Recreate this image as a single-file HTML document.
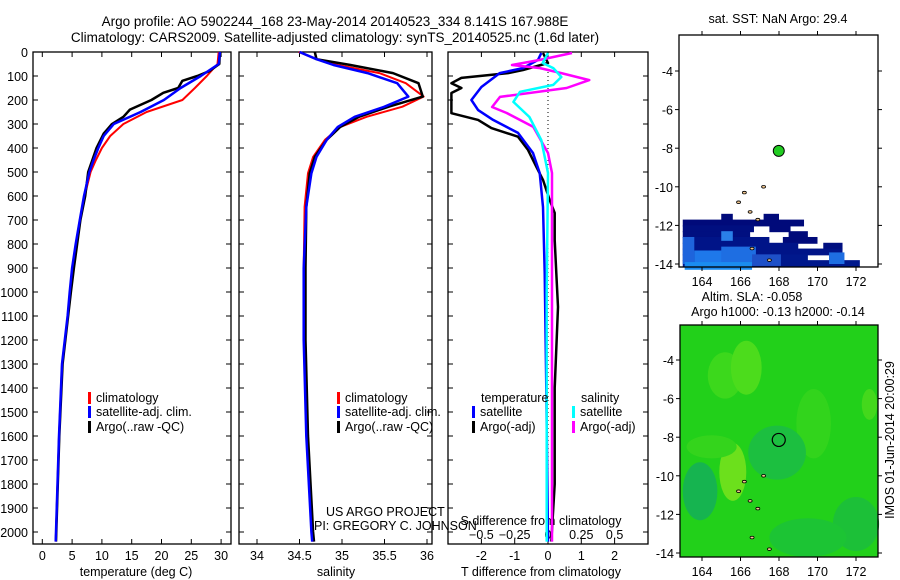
<!DOCTYPE html>
<html><head><meta charset="utf-8"><style>
body{margin:0;background:#fff;width:900px;height:580px;overflow:hidden}
svg{display:block;font-family:"Liberation Sans",sans-serif;font-size:12.5px}
</style></head><body>
<svg id="c" width="900" height="580">
<text x="335" y="26" text-anchor="middle" font-size="13.5">Argo profile: AO 5902244_168 23-May-2014 20140523_334 8.141S 167.988E</text>
<text x="335" y="42" text-anchor="middle" font-size="13.5">Climatology: CARS2009. Satellite-adjusted climatology: synTS_20140525.nc (1.6d later)</text>
</svg>
<script>
// ---- data ----
const tDepth=[0,50,100,150,200,250,300,350,400,450,500,600,700,800,900,1000,1100,1300,1600,2000,2040];
const tClim=[29.6,29.4,27.6,25.6,23.5,17.5,13.6,11.4,10,9,8.1,7.1,6.3,5.7,5.1,4.65,4.3,3.3,2.8,2.3,2.25];
const tSat=[29.8,29.6,26.6,23.2,20.4,16.5,12,10.3,9.4,8.6,7.9,7.0,6.3,5.6,5.0,4.6,4.25,3.3,2.8,2.3,2.25];
const tArgoDepth=[0,50,80,100,120,150,170,200,240,270,300,340,400,500,600,700,900,1000,1300,1600,2000,2040];
const tArgo=[29.8,29.7,28,26,23.5,22.8,20.3,18.3,14.7,13.6,11.7,10.3,9.1,7.7,7.2,6.4,5.3,4.8,3.4,2.85,2.35,2.3];
const sDepth=[0,30,54,88,130,186,228,270,312,366,437,505,645,900,1200,1600,2000,2040];
const sClim=[34.49,34.7,34.95,35.44,35.75,35.96,35.71,35.29,34.98,34.8,34.66,34.6,34.56,34.55,34.56,34.6,34.65,34.66];
const sSat=[34.5,34.7,34.9,35.3,35.65,35.78,35.5,35.15,34.95,34.82,34.7,34.64,34.58,34.55,34.55,34.58,34.64,34.65];
const sArgo=[34.68,34.7,35.1,35.6,35.9,35.95,35.55,35.2,34.98,34.82,34.68,34.62,34.58,34.57,34.57,34.6,34.66,34.67];
const dtArgoDepth=[4,46,75,88,108,130,150,171,255,283,317,353,408,478,533,617,671,783,921,1062,1400,1800,2040];
const dtArgo=[-0.15,0,-0.75,-1.2,-2.6,-2.9,-2.6,-2.9,-2.9,-2.1,-1.7,-0.9,-0.6,-0.35,-0.15,0.05,0.2,0.2,0.25,0.3,0.2,0.2,0.1];
const dtSatDepth=[4,33,67,88,146,200,242,283,337,421,504,646,921,1400,2040];
const dtSat=[-0.2,-0.3,-0.75,-1.45,-2.0,-2.3,-2.1,-1.65,-0.9,-0.45,-0.25,-0.15,-0.1,-0.05,0];
const dsSatDepth=[4,46,67,104,137,166,208,271,367,504,1000,2040];
const dsSat=[0,-0.04,0.04,0.1,0.04,-0.21,-0.26,-0.14,-0.05,0,-0.01,-0.01];
const dsArgoDepth=[4,33,54,67,88,117,150,187,229,254,312,421,504,1000,2040];
const dsArgo=[0.18,-0.06,-0.27,-0.06,0.1,0.31,0.14,-0.36,-0.42,-0.31,-0.11,0,0.03,0.03,0.03];
const depthTicks=[0,100,200,300,400,500,600,700,800,900,1000,1100,1200,1300,1400,1500,1600,1700,1800,1900,2000];
const tTicks=[0,5,10,15,20,25,30];
const sTicks=[34,34.5,35,35.5,36];
const sTickLabels=["34","34.5","35","35.5","36"];
const dtTicks=[-2,-1,0,1,2];
const dsTicks=[-0.5,-0.25,0,0.25,0.5];
const lonTicks=[164,166,168,170,172];
const latTicks=[-4,-6,-8,-10,-12,-14];
const floatLon=167.988, floatLat=-8.141;

const NS='http://www.w3.org/2000/svg';
const svg=document.getElementById('c');
function mk(tag,attrs,parent){const e=document.createElementNS(NS,tag);for(const k in attrs)e.setAttribute(k,attrs[k]);(parent||svg).appendChild(e);return e;}
function txt(x,y,s,anchor,size){const t=mk('text',{x:x,y:y,'text-anchor':anchor||'start'});if(size)t.setAttribute('font-size',size);t.textContent=s;return t;}

const TOP=52,BOT=544;
const yD=d=>TOP+d*0.24;
const P1={l:33,r:231}, P2={l:239,r:432}, P3={l:448,r:648};
const xT=v=>42.3+v*5.96;
const xS=v=>257+(v-34)*85;
const xDT=v=>548+v*33.3;
const xDS=v=>548+v*133.2;

function panel(P,name){
  const r=mk('rect',{x:P.l,y:TOP,width:P.r-P.l,height:BOT-TOP,fill:'none',stroke:'#000','stroke-width':1.3});
  
  
}
panel(P1,'temperature-panel');panel(P2,'salinity-panel');panel(P3,'difference-panel');

depthTicks.forEach(d=>{
  const y=yD(d);
  for(const P of [P1,P2,P3]){mk('line',{x1:P.l,x2:P.l+5,y1:y,y2:y,stroke:'#000'});mk('line',{x1:P.r-5,x2:P.r,y1:y,y2:y,stroke:'#000'});}
  const t=txt(28,y+5,String(d),'end');
  
  
});
tTicks.forEach(v=>{const x=xT(v);mk('line',{x1:x,x2:x,y1:TOP,y2:TOP+5,stroke:'#000'});mk('line',{x1:x,x2:x,y1:BOT-5,y2:BOT,stroke:'#000'});
  const t=txt(x,560,String(v),'middle');});
sTicks.forEach((v,i)=>{const x=xS(v);mk('line',{x1:x,x2:x,y1:TOP,y2:TOP+5,stroke:'#000'});mk('line',{x1:x,x2:x,y1:BOT-5,y2:BOT,stroke:'#000'});
  const t=txt(x,560,sTickLabels[i],'middle');});
dtTicks.forEach(v=>{const x=xDT(v);mk('line',{x1:x,x2:x,y1:BOT-5,y2:BOT,stroke:'#000'});
  const t=txt(x,560,String(v),'middle');});
dsTicks.forEach(v=>{const x=xDS(v);mk('line',{x1:x,x2:x,y1:TOP,y2:TOP+5,stroke:'#000'});
  const t=txt(x,539,String(v).replace('-','−'),'middle');});
let a=txt(136,576,'temperature (deg C)','middle');
a=txt(336,576,'salinity','middle');
a=txt(541,576,'T difference from climatology','middle');
a=txt(541,525,'S difference from climatology','middle');

mk('line',{x1:xDT(0),x2:xDT(0),y1:TOP+20,y2:BOT,stroke:'#000','stroke-dasharray':'1,3'});

function line(xs,ds,xf,color,w,name){
  const pts=xs.map((v,i)=>xf(v).toFixed(1)+','+yD(ds[i]).toFixed(1)).join(' ');
  const p=mk('polyline',{points:pts,fill:'none',stroke:color,'stroke-width':w,'stroke-linejoin':'round'});
  
  
}
line(tClim,tDepth,xT,'#f00',2,'temp-climatology-line');
line(tArgo,tArgoDepth,xT,'#000',2.5,'temp-argo-line');
line(tSat,tDepth,xT,'#00f',2.5,'temp-satellite-line');
line(sClim,sDepth,xS,'#f00',2,'sal-climatology-line');
line(sArgo,sDepth,xS,'#000',2.5,'sal-argo-line');
line(sSat,sDepth,xS,'#00f',2.5,'sal-satellite-line');
line(dtArgo,dtArgoDepth,xDT,'#000',2.5,'t-diff-argo-line');
line(dtSat,dtSatDepth,xDT,'#00f',2.5,'t-diff-satellite-line');
line(dsArgo,dsArgoDepth,xDS,'#f0f',2.5,'s-diff-argo-line');
line(dsSat,dsSatDepth,xDS,'#0ff',2.5,'s-diff-satellite-line');

function legend(x,y,color,label,name){
  const g=mk('g',{});
  
  
  mk('rect',{x:x,y:y-10,width:3,height:12,fill:color},g);
  const t=mk('text',{x:x+8,y:y},g);t.textContent=label;
}
legend(88,402,'#f00','climatology','legend-climatology');
legend(88,416,'#00f','satellite-adj. clim.','legend-satellite');
legend(88,431,'#000','Argo(..raw -QC)','legend-argo');
legend(337,402,'#f00','climatology','legend-climatology-sal');
legend(337,416,'#00f','satellite-adj. clim.','legend-satellite-sal');
legend(337,431,'#000','Argo(..raw -QC)','legend-argo-sal');
a=txt(481,402,'temperature');
a=txt(581,402,'salinity');
legend(472,416,'#00f','satellite','legend-t-satellite');
legend(472,431,'#000','Argo(-adj)','legend-t-argo');
legend(572,416,'#0ff','satellite','legend-s-satellite');
legend(572,431,'#f0f','Argo(-adj)','legend-s-argo');
a=txt(326,516,'US ARGO PROJECT');
a=txt(314,530,'PI: GREGORY C. JOHNSON');

// ---- maps ----
const M1={l:679,r:878,t:35,b:267,y4:71};
const M2={l:680,r:878,t:325,b:557,y4:360};
[M1,M2].forEach(M=>{M.x=v=>702+(v-164)*19.25;M.y=v=>M.y4+(-4-v)*19.3;});

mk('rect',{x:M2.l,y:M2.t,width:M2.r-M2.l,height:M2.b-M2.t,fill:'#22d01a'});
const slaBlobs=[[165.2,-4.8,0.9,1.2,'#3cd81c'],[166.3,-4.4,0.8,1.4,'#4cdc1c'],[169.8,-7.3,0.9,1.8,'#32d41c'],[165.6,-9.8,0.7,1.5,'#6ce01c'],[164.5,-8.5,1.3,0.6,'#34d41c'],[167.9,-8.8,1.5,1.4,'#1cbf40'],[163.9,-10.8,0.9,1.5,'#16b450'],[172,-12.5,1.2,1.4,'#1cc038'],[169.5,-13.2,2,1,'#1cc434'],[172.7,-6.3,0.4,0.8,'#44d81c']];
slaBlobs.forEach(b=>{const e=mk('ellipse',{cx:M2.x(b[0]),cy:M2.y(b[1]),rx:b[2]*19.25,ry:b[3]*19.3,fill:b[4]});});
const sstRows=[
 [-11.4,165,165.6,'#000a7a'],[-11.4,167.2,168,'#000a7a'],
 [-11.7,163,169.3,'#000a7a'],[-12.0,163,166.7,'#000f80'],[-12.0,167.5,168.6,'#000a7a'],
 [-12.3,163,166.5,'#000f80'],[-12.3,168.5,169.5,'#000a7a'],[-12.6,163,167.5,'#001488'],[-12.6,168.2,170,'#000a7a'],
 [-12.9,163,169,'#001488'],[-12.9,170.3,171.3,'#000f80'],[-13.2,163,171.3,'#001488'],[-13.5,163,169.5,'#00188c'],[-13.5,170.6,171.3,'#00188c'],[-13.8,163,172.2,'#00188c']];
sstRows.forEach(r=>{const e=mk('rect',{x:M1.x(r[1]),y:M1.y(r[0]),width:(r[2]-r[1])*19.25,height:0.3*19.3+1,fill:r[3]});});
const sstLight=[[163,-12.6,0.6,1.4,'#1e64dc'],[163.6,-13.3,1.5,0.8,'#1e78ea'],[165,-13.1,1.8,0.9,'#1e6ee2'],[163.1,-13.9,3.5,0.4,'#1a8cf0'],[166.6,-13.5,1.5,0.6,'#1e50c8'],[170.6,-13.4,0.8,0.6,'#1e6ee2'],[165,-12.3,0.6,0.5,'#2a80e8']];
sstLight.forEach(b=>{const e=mk('rect',{x:M1.x(b[0]),y:M1.y(b[1]),width:b[2]*19.25,height:b[3]*19.3,fill:b[4]});});
[M1,M2].forEach((M,k)=>{
  const r=mk('rect',{x:M.l,y:M.t,width:M.r-M.l,height:M.b-M.t,fill:'none',stroke:'#000','stroke-width':1.3});
  
  
  lonTicks.forEach(v=>{const x=M.x(v);mk('line',{x1:x,x2:x,y1:M.t-4,y2:M.t,stroke:'#000'});mk('line',{x1:x,x2:x,y1:M.b,y2:M.b+4,stroke:'#000'});
    const t=txt(x,M.b+19,String(v),'middle');});
  latTicks.forEach(v=>{const y=M.y(v);mk('line',{x1:M.l-4,x2:M.l,y1:y,y2:y,stroke:'#000'});mk('line',{x1:M.r,x2:M.r+4,y1:y,y2:y,stroke:'#000'});
    const t=txt(M.l-6,y+5,String(v),'end');});
  [[166.2,-10.3],[165.9,-10.8],[166.5,-11.3],[166.9,-11.7],[167.5,-13.8],[167.2,-10.0],[166.6,-13.2]].forEach(p=>{
    const e=mk('ellipse',{cx:M.x(p[0]),cy:M.y(p[1]),rx:2,ry:1.3,fill:'#f4c890',stroke:'#000','stroke-width':0.8});
    });
});
let f=mk('circle',{cx:M1.x(floatLon),cy:M1.y(floatLat),r:5.5,fill:'#22cc22',stroke:'#000'});

f=mk('circle',{cx:M2.x(floatLon),cy:M2.y(floatLat),r:6.5,fill:'none',stroke:'#000','stroke-width':1.2});

a=txt(778,23,'sat. SST: NaN Argo: 29.4','middle');
a=txt(752,301,'Altim. SLA: -0.058','middle');
a=txt(778,316,'Argo h1000: -0.13 h2000: -0.14','middle');
a=mk('text',{x:0,y:0,transform:'translate(894,440) rotate(-90)','text-anchor':'middle'});a.textContent='IMOS 01-Jun-2014 20:00:29';

</script>
</body></html>
